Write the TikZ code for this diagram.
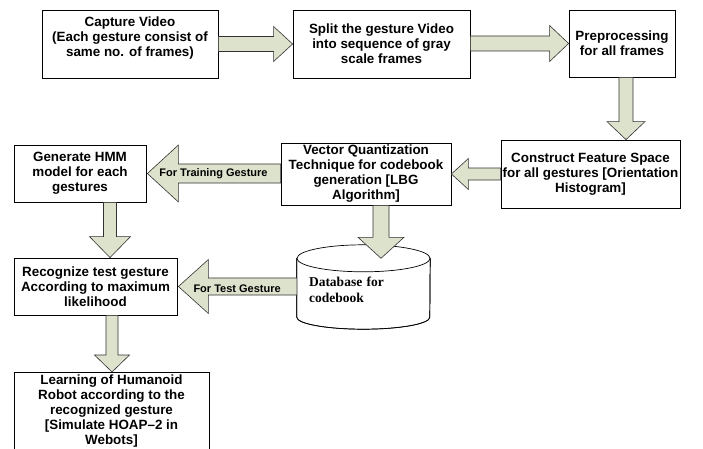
\documentclass[tikz,border=0pt]{standalone}
\usepackage{fontspec}
\setmainfont{Liberation Sans}
\newfontfamily\dbfont{Liberation Serif}
\usetikzlibrary{calc}

\definecolor{arrowfill}{RGB}{221,226,204}
\definecolor{arrowline}{RGB}{50,50,50}

\tikzset{
  box/.style={draw=black, line width=0.8pt, fill=white, inner sep=1pt, align=center,
    font=\bfseries\fontsize{13.4}{15}\selectfont},
  blockarrow/.style={draw=arrowline, fill=arrowfill, line width=0.6pt, line join=miter},
  arrowlabel/.style={inner sep=0pt, font=\bfseries\fontsize{11}{13}\selectfont},
  dbbody/.style={draw=black, line width=0.7pt, fill=white},
  dbtext/.style={inner sep=0pt, text width=109pt, align=left,
    font=\dbfont\bfseries\fontsize{13.5}{16}\selectfont},
}

% horizontal block arrow: #1 start (x used), #2 tip, #3 half shaft, #4 half head, #5 head length
\newcommand\hblock[5]{%
  \draw[blockarrow] let \p1=#1, \p2=#2, \n1={sign(\x1-\x2)} in
    (\x1,{\y2+#3}) -- ({\x2+\n1*#5},{\y2+#3}) -- ({\x2+\n1*#5},{\y2+#4}) -- (\x2,\y2)
    -- ({\x2+\n1*#5},{\y2-#4}) -- ({\x2+\n1*#5},{\y2-#3}) -- (\x1,{\y2-#3}) -- cycle;}

% vertical block arrow: #1 start (x and y used), #2 tip (y used), #3 half shaft, #4 half head, #5 head length
\newcommand\vblock[5]{%
  \draw[blockarrow] let \p1=#1, \p2=#2, \n1={sign(\y1-\y2)} in
    ({\x1-#3},\y1) -- ({\x1-#3},{\y2+\n1*#5}) -- ({\x1-#4},{\y2+\n1*#5}) -- (\x1,\y2)
    -- ({\x1+#4},{\y2+\n1*#5}) -- ({\x1+#3},{\y2+\n1*#5}) -- ({\x1+#3},\y1) -- cycle;}

\begin{document}
\begin{tikzpicture}[x=1pt,y=-1pt]
\useasboundingbox (0,0) rectangle (703,449);
\clip (0,0) rectangle (703,449);
\fill[white] (0,0) rectangle (703,449);

% process boxes
\node[box, minimum width=176pt, minimum height=68pt] (cap) at (130,44)
  {Capture Video\\(Each gesture consist of\\same no. of frames)\\\mbox{}};
\node[box, minimum width=177pt, minimum height=68pt] (split) at (381.5,44)
  {Split the gesture Video\\into sequence of gray\\scale frames};
\node[box, minimum width=106pt, minimum height=67pt] (pre) at (622,43.5)
  {Preprocessing\\for all frames};
\node[box, minimum width=179pt, minimum height=68pt] (feat) at (590.5,174)
  {Construct Feature Space\\for all gestures [Orientation\\Histogram]};
\node[box, minimum width=170pt, minimum height=62pt] (vq) at (366,174)
  {Vector Quantization\\Technique for codebook\\generation [LBG\\Algorithm]};
\node[box, minimum width=132pt, minimum height=57pt] (hmm) at (80,173.5)
  {Generate HMM\\model for each\\gestures};
\node[box, minimum width=163pt, minimum height=57pt] (rec) at (95.5,286.5)
  {Recognize test gesture\\According to maximum\\likelihood};
% the last box runs on past the lower edge of the page
\node[box, anchor=north, minimum width=195pt, inner ysep=2pt, text depth=72pt] (learn) at (111.5,372)
  {Learning of Humanoid\\Robot according to the\\recognized gesture\\{}[Simulate HOAP–2 in\\Webots]};

% codebook database (cylinder)
\node[minimum width=133pt, minimum height=63pt, inner sep=0pt] (db) at (363.5,290) {};
\path[dbbody] (db.north west) -- ([yshift=4.5pt]db.south west)
  arc[start angle=180, end angle=360, x radius=66.5pt, y radius=12pt]
  -- (db.north east) -- cycle;
\draw[dbbody] (db.north) ellipse [x radius=66.5pt, y radius=13.5pt];
\draw[black, line width=0.7pt] (db.north west) -- ([yshift=4.5pt]db.south west)
  arc[start angle=180, end angle=360, x radius=66.5pt, y radius=12pt]
  -- (db.north east);
\node[dbtext] (dblabel) at (db.center) {Database for\\codebook};

% block arrows
\hblock{(cap.east)}{(split.west)}{7.5pt}{17.5pt}{19pt}
\hblock{(split.east)}{(pre.west)}{7.5pt}{18pt}{19pt}
\vblock{([xshift=4pt]pre.south)}{(feat.north)}{7pt}{19pt}{18pt}
\hblock{(feat.west)}{(vq.east)}{6pt}{15.5pt}{17pt}
\hblock{(vq.west)}{([xshift=1pt]hmm.east)}{9.5pt}{28.5pt}{31pt}
\vblock{([xshift=30pt]hmm.south)}{(rec.north)}{6.5pt}{20.5pt}{21pt}
\vblock{([xshift=15pt]vq.south)}{(db.north)}{8pt}{23pt}{21pt}
\hblock{(db.west)}{([xshift=1pt]rec.east)}{8.5pt}{27pt}{30pt}
\vblock{([xshift=16.5pt]rec.south)}{(learn.north)}{6pt}{17.5pt}{17pt}

% arrow labels
\node[arrowlabel] (trainlbl) at ($(hmm.east)!0.5!(vq.west)$) {For Training Gesture};
\node[arrowlabel] (testlbl) at ($(rec.east)!0.5!(db.west)$) {For Test Gesture};
\end{tikzpicture}
\end{document}
